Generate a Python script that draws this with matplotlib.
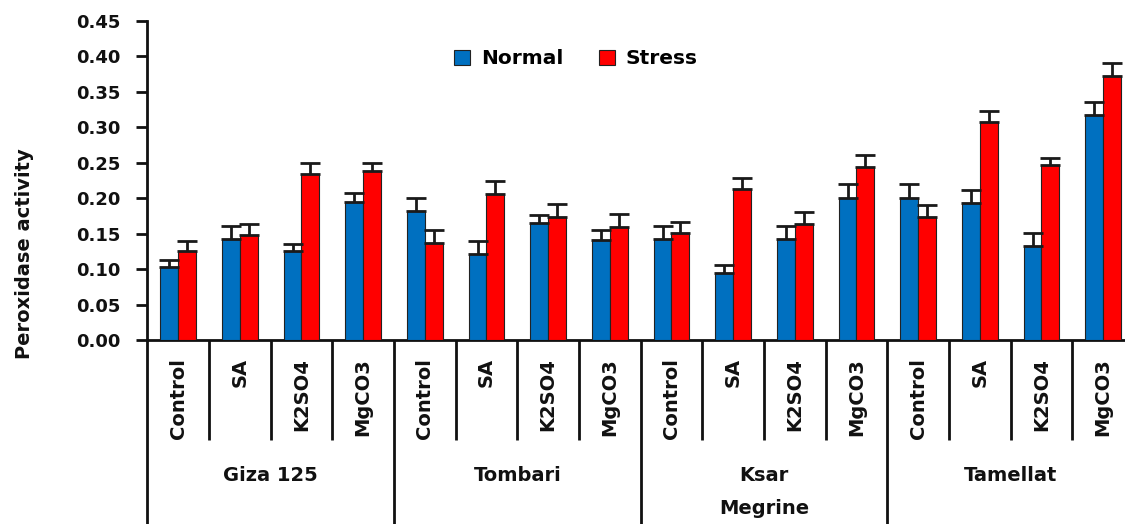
import numpy as np
import matplotlib
matplotlib.use("Agg")
import matplotlib.pyplot as plt
from matplotlib.patches import Patch
import matplotlib.transforms as mtransforms

# Cultivars and treatments (two-level category axis)
cultivars = ["Giza 125", "Tombari", "Ksar\nMegrine", "Tamellat"]
treatments = ["Control", "SA", "K2SO4", "MgCO3"]

# Peroxidase activity, ordered cultivar by cultivar, treatment within cultivar
normal = [0.103, 0.143, 0.125, 0.194,
          0.182, 0.121, 0.165, 0.141,
          0.143, 0.094, 0.142, 0.201,
          0.201, 0.193, 0.132, 0.317]
stress = [0.125, 0.148, 0.234, 0.238,
          0.137, 0.206, 0.173, 0.160,
          0.151, 0.213, 0.164, 0.244,
          0.173, 0.307, 0.247, 0.373]
normal_err = [0.010, 0.018, 0.010, 0.013,
              0.019, 0.019, 0.012, 0.014,
              0.018, 0.012, 0.019, 0.019,
              0.019, 0.018, 0.019, 0.019]
stress_err = [0.015, 0.016, 0.015, 0.011,
              0.018, 0.019, 0.019, 0.018,
              0.016, 0.016, 0.016, 0.017,
              0.017, 0.016, 0.010, 0.018]

yticks = [0.00, 0.05, 0.10, 0.15, 0.20, 0.25, 0.30, 0.35, 0.40, 0.45]

BLUE = "#0070C0"
RED = "#FF0000"
W, H = 1125, 524

plt.rcParams["font.family"] = ["DejaVu Sans"]
plt.rcParams["font.weight"] = "bold"

fig = plt.figure(figsize=(W / 100, H / 100), dpi=100)
# plot area (the category axis runs slightly past the right edge of the canvas)
left, right, top, bottom = 147.3, 1134.0, 21.0, 340.0
ax = fig.add_axes([left / W, 1 - bottom / H, (right - left) / W, (bottom - top) / H])

n_cat = len(treatments) * len(cultivars)
x = np.arange(n_cat)
bw = 0.29
err_kw = dict(ecolor="#1a1a1a", elinewidth=2.0, capsize=7.5, capthick=2.0)

ax.bar(x - bw / 2, normal, bw, color=BLUE, edgecolor="#222222", linewidth=0.8,
       yerr=[np.zeros(n_cat), normal_err], error_kw=err_kw, zorder=3)
ax.bar(x + bw / 2, stress, bw, color=RED, edgecolor="#222222", linewidth=0.8,
       yerr=[np.zeros(n_cat), stress_err], error_kw=err_kw, zorder=3)

ax.set_xlim(-0.5, n_cat - 0.5)
ax.set_ylim(0, 0.45)
ax.set_yticks(yticks)
ax.set_yticklabels([f"{v:.2f}" for v in yticks], fontsize=13, fontweight="bold")
ax.tick_params(axis="y", direction="out", length=8, width=2, pad=11, colors="#111111")
ax.set_xticks([])

for s in ("top", "right"):
    ax.spines[s].set_visible(False)
for s in ("left", "bottom"):
    ax.spines[s].set_linewidth(2)
    ax.spines[s].set_color("#111111")

# category axis table: separators and labels below the plot
trans = mtransforms.blended_transform_factory(ax.transData, ax.transAxes)
px = 1.0 / (bottom - top)  # one pixel in axes-fraction units
short_end = -100 * px
long_end = -(H - bottom) * px - 0.05
for b in range(n_cat + 1):
    xb = b - 0.5
    end = long_end if b % len(treatments) == 0 else short_end
    ax.plot([xb, xb], [0, end], color="#111111", lw=2, transform=trans,
            clip_on=False, solid_capstyle="butt")

for i in range(n_cat):
    ax.text(i, -18 * px, treatments[i % len(treatments)], transform=trans,
            rotation=90, ha="center", va="top", fontsize=14, fontweight="bold",
            color="#111111")

for g, name in enumerate(cultivars):
    xc = g * len(treatments) + (len(treatments) - 1) / 2
    ax.text(xc, -126 * px, name, transform=trans, ha="center", va="top",
            fontsize=14, fontweight="bold", color="#111111", linespacing=1.9,
            multialignment="center")

fig.text(25 / W, 1 - 254 / H, "Peroxidase activity", rotation=90,
         ha="center", va="center", fontsize=14, fontweight="bold", color="#111111")

handles = [Patch(facecolor=BLUE, edgecolor="#222222", linewidth=0.8, label="Normal"),
           Patch(facecolor=RED, edgecolor="#222222", linewidth=0.8, label="Stress")]
fig.legend(handles=handles, loc="center", ncol=2, frameon=False,
           bbox_to_anchor=(576 / W, 1 - 59 / H), bbox_transform=fig.transFigure,
           prop={"size": 14.5, "weight": "bold"}, handlelength=0.8, handleheight=0.8,
           handletextpad=0.55, columnspacing=1.75)

fig.savefig("out.png", dpi=100, facecolor="white")
